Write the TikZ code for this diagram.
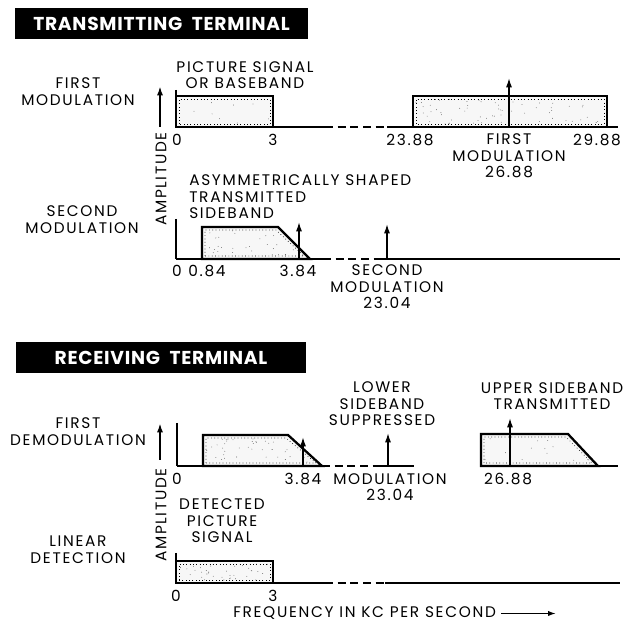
\documentclass[tikz,border=0pt]{standalone}
\usepackage{fontspec}
\setmainfont{Poppins}[LetterSpace=11]
\usetikzlibrary{arrows.meta}
\newcommand\stip[5]{\foreach \k in {1,...,#5}{\fill[black!75] ({#1+rnd*(#3-#1)},{#2+rnd*(#4-#2)}) circle (0.3pt);}}
\begin{document}
\begin{tikzpicture}[x=0.75pt,y=-0.75pt,
  lbl/.style={font=\fontsize{11.5}{12.4}\selectfont, align=center, inner sep=0pt},
  lbll/.style={font=\fontsize{11.5}{12.4}\selectfont, align=left, inner sep=0pt},
  titlebar/.style={fill=black, text=white, font=\fontsize{14}{16}\selectfont\bfseries\addfontfeature{LetterSpace=4}, minimum height=23.25pt, inner sep=0pt},
  base/.style={line width=1.1pt},
  dsh/.style={line width=1.1pt, dash pattern=on 6pt off 3.5pt},
  axisl/.style={line width=0.9pt},
  band/.style={line width=1.7pt, fill=black!3, line join=miter},
  inner/.style={line width=0.5pt, dotted},
  carrier/.style={line width=1.1pt, -{Latex[length=7pt,width=4.5pt]}},
  amp/.style={line width=1.4pt, -{Latex[length=7pt,width=4.5pt]}}]
\useasboundingbox (0,0) rectangle (640,623);
\pgfmathsetseed{7}

% ---------- titles
\node[titlebar, minimum width=219.75pt] (bar1) at (161.5,23.5) {TRANSMITTING\ \ TERMINAL};
\node[titlebar, minimum width=217.5pt] (bar2) at (161,357.5) {RECEIVING\ \ TERMINAL};

% ---------- left labels
\node[lbl] (lab1) at (78,91.5) {FIRST\\MODULATION};
\node[lbl] (lab2) at (82,219.5) {SECOND\\MODULATION};
\node[lbl] (lab3) at (78,431.5) {FIRST\\DEMODULATION};
\node[lbl] (lab4) at (78,549.5) {LINEAR\\DETECTION};

% ---------- amplitude arrows
\coordinate (ampB1) at (160,127); \coordinate (ampT1) at (160,86);
\draw[amp] (ampB1) -- (ampT1);
\node[lbl, rotate=90] (ampL1) at (161,179) {AMPLITUDE};
\coordinate (ampB2) at (160,460); \coordinate (ampT2) at (160,423);
\draw[amp] (ampB2) -- (ampT2);
\node[lbl, rotate=90] (ampL2) at (161,515) {AMPLITUDE};

% ---------- row 1 : first modulation
\draw[axisl] (176,90) -- (176,127);
\filldraw[band] (176,127) rectangle (273,96);
\draw[inner] (179,124) rectangle (270,99);
\stip{180}{100}{270}{124}{8}
\filldraw[band] (413,127) rectangle (607,96);
\draw[inner] (416,124) rectangle (604,99);
\stip{416}{99}{604}{124}{60}
\draw[base] (176,127) -- (325,127);
\draw[dsh] (325,127) -- (387,127);
\draw[base] (387,127) -- (618,127);
\coordinate (c1b) at (509,127); \coordinate (c1t) at (509,78);
\draw[carrier] (c1b) -- (c1t);
\node[lbl] (n1a) at (177,140) {0};
\node[lbl] (n1b) at (273,140) {3};
\node[lbl] (n1c) at (410,140) {23.88};
\node[lbl] (n1d) at (509,156) {FIRST\\MODULATION\\26.88};
\node[lbl] (n1e) at (597,140) {29.88};
\node[lbl] (n1f) at (245,75) {PICTURE SIGNAL\\OR BASEBAND};

% ---------- row 2 : second modulation
\draw[axisl] (176,219) -- (176,259);
\filldraw[band] (202,259) -- (202,227) -- (278,227) -- (310,259) -- cycle;
\draw[inner] (205,256) -- (205,230) -- (276,230) -- (304,256) -- cycle;
\begin{scope}
\clip (205,256) -- (205,230) -- (276,230) -- (304,256) -- cycle;
\stip{205}{230}{304}{256}{30}
\end{scope}
\draw[base] (176,259) -- (323,259);
\draw[dsh] (323,259) -- (377,259);
\draw[base] (377,259) -- (620,259);
\coordinate (c2b) at (299,259); \coordinate (c2t) at (299,222);
\draw[carrier] (c2b) -- (c2t);
\coordinate (c3b) at (387,259); \coordinate (c3t) at (387,224);
\draw[carrier] (c3b) -- (c3t);
\node[lbl] (n2a) at (177,271) {0};
\node[lbl] (n2b) at (207,271) {0.84};
\node[lbl] (n2c) at (298,271) {3.84};
\node[lbl] (n2d) at (387,287) {SECOND\\MODULATION\\23.04};
\node[lbll, anchor=west] (n2e) at (189,197) {ASYMMETRICALLY SHAPED\\TRANSMITTED\\SIDEBAND};

% ---------- row 3 : first demodulation
\draw[axisl] (177,423) -- (177,466);
\filldraw[band] (203,466) -- (203,435) -- (288,435) -- (322,466) -- cycle;
\draw[inner] (206,463) -- (206,438) -- (286,438) -- (316,463) -- cycle;
\begin{scope}
\clip (206,463) -- (206,438) -- (286,438) -- (316,463) -- cycle;
\stip{206}{438}{316}{463}{45}
\end{scope}
\draw[base] (177,466) -- (322,466);
\draw[dsh] (322,466) -- (377,466);
\draw[base] (377,466) -- (414,466);
\filldraw[band] (481,466) -- (481,434) -- (568,434) -- (598,466) -- cycle;
\draw[inner] (484,463) -- (484,437) -- (566,437) -- (592,463) -- cycle;
\begin{scope}
\clip (484,463) -- (484,437) -- (566,437) -- (592,463) -- cycle;
\stip{484}{437}{592}{463}{16}
\end{scope}
\draw[base] (598,466) -- (618,466);
\coordinate (c4b) at (303,466); \coordinate (c4t) at (303,437);
\draw[carrier] (c4b) -- (c4t);
\coordinate (c5b) at (388,466); \coordinate (c5t) at (388,433);
\draw[carrier] (c5b) -- (c5t);
\coordinate (c6b) at (510,466); \coordinate (c6t) at (510,418);
\draw[carrier] (c6b) -- (c6t);
\node[lbl] (n3a) at (177,479) {0};
\node[lbl] (n3b) at (303,479) {3.84};
\node[lbl] (n3c) at (390,487) {MODULATION\\23.04};
\node[lbl] (n3d) at (508,479) {26.88};
\node[lbl] (n3e) at (382,404) {LOWER\\SIDEBAND\\SUPPRESSED};
\node[lbl] (n3f) at (552,396) {UPPER SIDEBAND\\TRANSMITTED};

% ---------- row 4 : linear detection
\draw[axisl] (176,553) -- (176,583);
\filldraw[band] (176,583) rectangle (273,561);
\draw[inner] (179,580) rectangle (270,564);
\stip{180}{564}{270}{580}{35}
\draw[base] (176,583) -- (325,583);
\draw[dsh] (325,583) -- (385,583);
\draw[base] (385,583) -- (620,583);
\node[lbl] (n4a) at (176,596) {0};
\node[lbl] (n4b) at (273,596) {3};
\node[lbl] (n4c) at (222,521) {DETECTED\\PICTURE\\SIGNAL};
\node[lbl, anchor=west] (n4d) at (233,613.5) {FREQUENCY IN KC PER SECOND};
\coordinate (fend) at (556,613.5);
\draw[line width=1.1pt, -{Latex[length=6pt,width=4pt]}] ([xshift=4pt]n4d.east) -- (fend);
\end{tikzpicture}
\end{document}
